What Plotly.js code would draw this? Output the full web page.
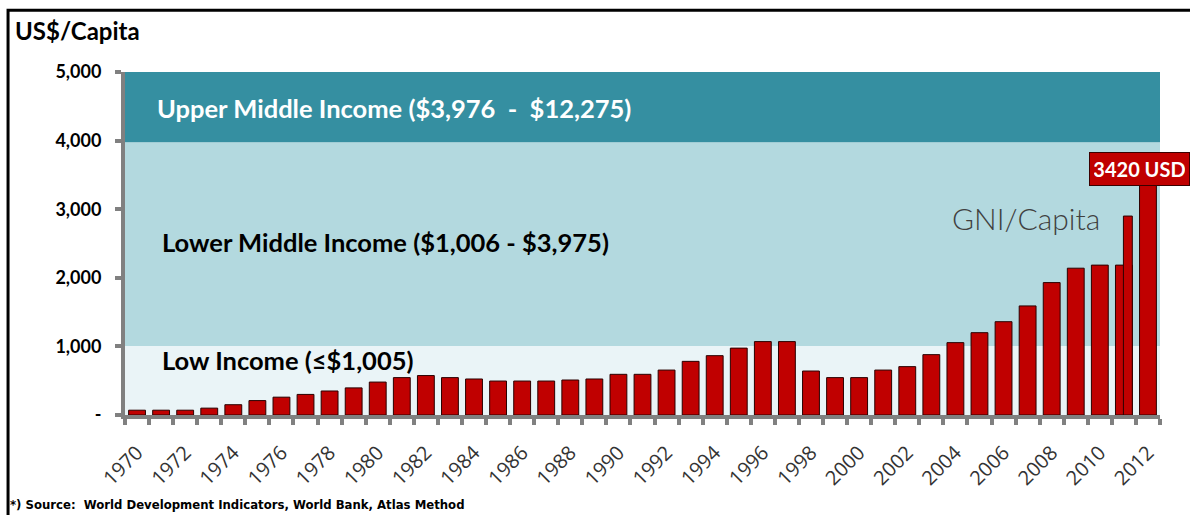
<!DOCTYPE html>
<html>
<head>
<meta charset="utf-8">
<script src="https://cdn.plot.ly/plotly-3.0.1.min.js"></script>
<style>
  html, body { margin: 0; padding: 0; background: #fff; }
  #chart { width: 1190px; height: 515px; }
</style>
</head>
<body>
<div id="chart"></div>
<script>
// ---- data ----
const years = [1970,1971,1972,1973,1974,1975,1976,1977,1978,1979,
               1980,1981,1982,1983,1984,1985,1986,1987,1988,1989,
               1990,1991,1992,1993,1994,1995,1996,1997,1998,1999,
               2000,2001,2002,2003,2004,2005,2006,2007,2008,2009,
               2010,2011,2012];
const gniPerCapita = [70,70,70,100,150,210,260,300,350,395,
                      480,545,575,545,525,495,495,495,510,525,
                      593,593,655,782,865,975,1070,1070,641,545,
                      545,655,705,880,1055,1200,1360,1590,1930,2140,
                      2185,2185,3420];
// revised 2011 value drawn as a narrow overlay bar in the source
const revisedYear = [2011];
const revisedValue = [2900];

const tickYears = [1970,1972,1974,1976,1978,1980,1982,1984,1986,1988,1990,
                   1992,1994,1996,1998,2000,2002,2004,2006,2008,2010,2012];
const tickYearLabels = tickYears.map(String);
const yTickVals = [0,1000,2000,3000,4000,5000];
const yTickLabels = ['-','1,000','2,000','3,000','4,000','5,000'];

// income bands
const bandLow = [0, 1005];
const bandLowerMid = [1005, 3975];
const bandUpperMid = [3975, 5000];
const latestLabel = '3420 USD';
const latestYear = 2012;
const latestValue = 3420;

// ---- chart ----
const barTrace = {
  type: 'bar', x: years, y: gniPerCapita, width: 0.7,
  marker: { color: '#c00000', line: { color: '#2a0000', width: 1 } },
  hoverinfo: 'x+y'
};
const revisedTrace = {
  type: 'bar', x: revisedYear, y: revisedValue, width: 0.37, offset: -0.02,
  marker: { color: '#c00000', line: { color: '#2a0000', width: 1 } },
  hoverinfo: 'x+y'
};

const shapes = [
  { type: 'rect', xref: 'paper', yref: 'y', x0: 0, x1: 1, y0: bandLow[0], y1: bandLow[1],
    fillcolor: '#eaf4f7', line: { width: 0 }, layer: 'below' },
  { type: 'rect', xref: 'paper', yref: 'y', x0: 0, x1: 1, y0: bandLowerMid[0], y1: bandLowerMid[1],
    fillcolor: '#b3d9df', line: { width: 0 }, layer: 'below' },
  { type: 'rect', xref: 'paper', yref: 'y', x0: 0, x1: 1, y0: bandUpperMid[0], y1: bandUpperMid[1],
    fillcolor: '#358fa1', line: { width: 0 }, layer: 'below' },
  // outer frame
  { type: 'rect', xref: 'paper', yref: 'paper', x0: -0.113, x1: 1.07, y0: -0.33, y1: 1.18,
    line: { color: '#000', width: 3 }, fillcolor: 'rgba(0,0,0,0)', layer: 'above' }
];

const annotations = [
  { xref: 'paper', yref: 'paper', x: -0.108, y: 1.122, xanchor: 'left', yanchor: 'middle',
    text: 'US$/Capita', showarrow: false,
    font: { family: 'Lato, Open Sans, sans-serif', size: 24, color: '#000', weight: 'bold' } },
  { xref: 'paper', yref: 'y', x: 0.029, y: 4475, xanchor: 'left', yanchor: 'middle',
    text: 'Upper Middle Income ($3,976  -  $12,275)', showarrow: false,
    font: { family: 'Lato, Open Sans, sans-serif', size: 25.5, color: '#ffffff', weight: 'bold' } },
  { xref: 'paper', yref: 'y', x: 0.034, y: 2522, xanchor: 'left', yanchor: 'middle',
    text: 'Lower Middle Income ($1,006 - $3,975)', showarrow: false,
    font: { family: 'Lato, Open Sans, sans-serif', size: 25.5, color: '#000', weight: 'bold' } },
  { xref: 'paper', yref: 'y', x: 0.034, y: 802, xanchor: 'left', yanchor: 'middle',
    text: 'Low Income (≤$1,005)', showarrow: false,
    font: { family: 'Lato, Open Sans, sans-serif', size: 25.5, color: '#000', weight: 'bold' } },
  { xref: 'paper', yref: 'y', x: 0.8705, y: 2872, xanchor: 'center', yanchor: 'middle',
    text: 'GNI/Capita', showarrow: false,
    font: { family: 'Lato, Open Sans, sans-serif', size: 30, color: '#404040', weight: 300 } },
  { xref: 'x', yref: 'y', x: latestYear, y: latestValue, xanchor: 'center', yanchor: 'bottom',
    xshift: -8, yshift: -6, text: latestLabel, showarrow: false,
    bgcolor: '#c00000', bordercolor: '#3a0000', borderwidth: 1, borderpad: 4, width: 91,
    font: { family: 'Lato, Open Sans, sans-serif', size: 20, color: '#ffffff', weight: 'bold' } },
  { xref: 'paper', yref: 'paper', x: -0.113, y: -0.262, xanchor: 'left', yanchor: 'middle',
    text: '*) Source:  World Development Indicators, World Bank, Atlas Method', showarrow: false,
    font: { family: 'Liberation Sans Narrow, DejaVu Sans Condensed, sans-serif', size: 13, color: '#000', weight: 'bold' } }
];

const layout = {
  width: 1190, height: 515,
  margin: { l: 125, r: 30, t: 72, b: 100 },
  paper_bgcolor: '#ffffff', plot_bgcolor: '#ffffff',
  showlegend: false, barmode: 'overlay',
  xaxis: {
    range: [1969.5, 2012.5], showgrid: false, zeroline: false,
    showline: true, linecolor: '#808080', linewidth: 4,
    tickmode: 'array', tickvals: tickYears, ticktext: tickYearLabels,
    ticks: '', tickangle: -45, ticklabelstandoff: 14,
    tickfont: { family: 'Open Sans, sans-serif', size: 20, color: '#333333' },
    minor: { tickmode: 'linear', tick0: 1969.5, dtick: 1, ticks: 'outside',
             ticklen: 6, tickwidth: 4, tickcolor: '#808080', showgrid: false }
  },
  yaxis: {
    range: [0, 5000], showgrid: false, zeroline: false,
    showline: true, linecolor: '#808080', linewidth: 4,
    tickmode: 'array', tickvals: yTickVals, ticktext: yTickLabels,
    ticks: 'outside', ticklen: 6, tickwidth: 4, tickcolor: '#808080',
    ticklabelstandoff: 10,
    tickfont: { family: 'Lato, Open Sans, sans-serif', size: 18, color: '#000', weight: 'bold' }
  },
  shapes: shapes,
  annotations: annotations
};

Plotly.newPlot('chart', [barTrace, revisedTrace], layout, { displayModeBar: false, staticPlot: true });
</script>
</body>
</html>
